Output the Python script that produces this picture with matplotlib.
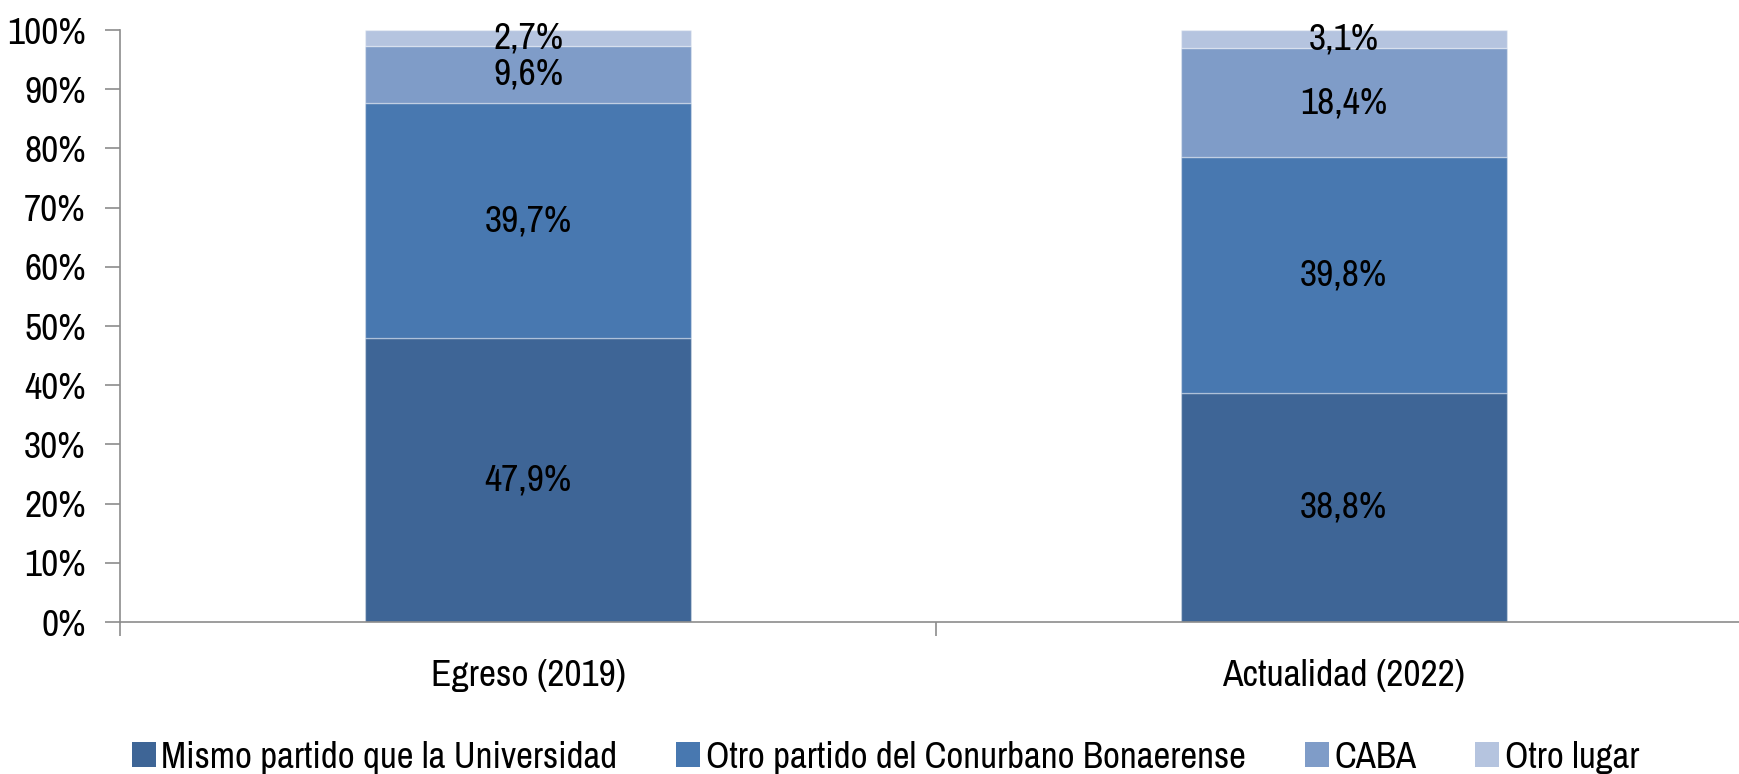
import numpy as np
import matplotlib
matplotlib.use("Agg")
import matplotlib.pyplot as plt
from matplotlib.patches import Patch

categories = ["Egreso (2019)", "Actualidad (2022)"]
series_names = ["Mismo partido que la Universidad",
                "Otro partido del Conurbano Bonaerense",
                "CABA",
                "Otro lugar"]
mismo_partido = [47.9, 38.8]
otro_partido = [39.7, 39.8]
caba = [9.6, 18.4]
otro_lugar = [2.7, 3.1]
y_ticks = [0, 10, 20, 30, 40, 50, 60, 70, 80, 90, 100]

colors = ["#3E6596", "#4878B0", "#7F9CC8", "#B5C4DF"]

plt.rcParams["font.family"] = ["Archivo Narrow", "Liberation Sans", "DejaVu Sans"]

fs = 27
fs_leg = 26.5

fig = plt.figure(figsize=(17.4, 7.74), dpi=100)
ax = fig.add_axes([120.5 / 1740, 1 - 622 / 774, 1631 / 1740, 592 / 774])

data = np.array([mismo_partido, otro_partido, caba, otro_lugar])
totals = data.sum(axis=0)
shares = data / totals * 100  # 100% stacked: each bar normalised to its total

x = np.arange(len(categories))
bottom = np.zeros(len(categories))
for i in range(len(series_names)):
    ax.bar(x, shares[i], 0.4, bottom=bottom, color=colors[i],
           edgecolor=(1, 1, 1, 0.35), linewidth=1.0)
    for j in range(len(categories)):
        ax.text(x[j], bottom[j] + shares[i][j] / 2,
                f"{data[i][j]:.1f}%".replace(".", ","),
                ha="center", va="center", fontsize=fs, color="black")
    bottom += shares[i]

ax.set_xlim(-0.5, 1.5)
ax.set_ylim(0, 100)
ax.set_yticks(y_ticks)
ax.set_yticklabels([f"{t}%" for t in y_ticks], fontsize=fs)
ax.set_xticks([-0.5, 0.5, 1.5])
ax.set_xticklabels([])
ax.set_xticks(x, minor=True)
ax.set_xticklabels(categories, minor=True, fontsize=fs)
ax.tick_params(axis="x", which="minor", length=0, pad=27)
ax.tick_params(axis="x", which="major", length=10, color="#8C8C8C", width=1.2)
ax.tick_params(axis="y", length=11, color="#8C8C8C", width=1.2, pad=14)

for s in ["top", "right"]:
    ax.spines[s].set_visible(False)
for s in ["left", "bottom"]:
    ax.spines[s].set_color("#8C8C8C")
    ax.spines[s].set_linewidth(1.2)

handles = [Patch(facecolor=c, edgecolor="none") for c in colors]
fig.legend(handles, series_names, loc="center left",
           bbox_to_anchor=(132 / 1740, 1 - 757 / 774), ncol=4, frameon=False,
           borderpad=0, borderaxespad=0,
           fontsize=fs_leg, handlelength=0.65, handleheight=0.65, handletextpad=0.15,
           columnspacing=1.6)

fig.savefig("out.png", dpi=100)
